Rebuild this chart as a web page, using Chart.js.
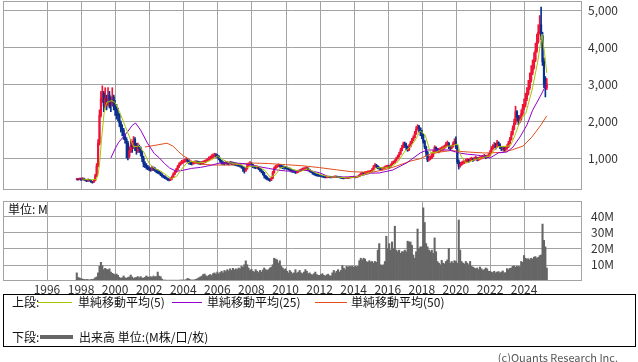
<!DOCTYPE html>
<html>
<head>
<meta charset="utf-8">
<script src="https://cdn.jsdelivr.net/npm/chart.js@4.4.1/dist/chart.umd.min.js"></script>
<style>
  body { margin: 0; background: #fff; overflow: hidden; }
  #wrap { position: relative; width: 638px; height: 362px; font-family: "Noto Sans CJK JP", sans-serif; color: #111; }
  canvas { position: absolute; left: 0; }
  .t { position: absolute; font-size: 12px; line-height: 16px; white-space: nowrap; }
  .ln { position: absolute; height: 1px; }
  #legend { position: absolute; left: 3px; top: 294px; width: 633px; height: 53px; box-sizing: border-box; border: 1px solid #000; }
</style>
</head>
<body>
<div id="wrap">
  <canvas id="price" width="638" height="191" style="top:0"></canvas>
  <canvas id="volume" width="638" height="100" style="top:195px"></canvas>
  <div class="t" style="left:8px;top:201px">単位: M</div>
  <div id="legend"></div>
  <div class="t" style="left:12px;top:294px">上段:</div>
  <div class="ln" style="left:38px;top:302px;width:34px;background:#a8c400"></div>
  <div class="t" style="left:78px;top:294px">単純移動平均(5)</div>
  <div class="ln" style="left:172px;top:302px;width:30px;background:#9400c8"></div>
  <div class="t" style="left:207px;top:294px">単純移動平均(25)</div>
  <div class="ln" style="left:315px;top:302px;width:32px;background:#e0501e"></div>
  <div class="t" style="left:351px;top:294px">単純移動平均(50)</div>
  <div class="t" style="left:12px;top:329px">下段:</div>
  <div class="ln" style="left:40px;top:335px;width:33px;height:4px;background:#666"></div>
  <div class="t" style="left:79px;top:329px">出来高 単位:(M株/口/枚)</div>
  <div class="t" style="right:20px;top:349px;font-size:11px;color:#555">(c)Quants Research Inc.</div>
</div>
<script>
// monthly bars, first one is Oct 1997
const startYear = 1997.75;

const closes = [
  430, 415, 440,
  410, 450, 420, 400, 380, 420, 390, 360, 345, 390, 520, 780,
  1400, 2150, 2600, 2750, 2400, 2600, 2450, 2700, 2500, 2450, 2650, 2400,
  2300, 2200, 2150, 1950, 1800, 1750, 1600, 1500, 1400, 1050, 1200, 1350,
  1300, 1500, 1350, 1200, 1300, 1250, 1150, 1000, 850, 800, 760, 720,
  700, 680, 720, 700, 680, 640, 620, 600, 560, 520, 500, 470,
  450, 420, 405, 430, 480, 560, 620, 680, 760, 820, 860, 890,
  900, 930, 950, 920, 880, 860, 850, 870, 880, 890, 880, 870,
  860, 870, 880, 900, 920, 950, 990, 1000, 1040, 1060, 1080, 1070,
  1050, 980, 920, 870, 860, 850, 870, 860, 850, 870, 860, 850,
  840, 830, 810, 800, 790, 760, 730, 650, 700, 780, 830, 860,
  820, 780, 760, 740, 750, 720, 680, 640, 600, 520, 480, 450,
  420, 400, 450, 600, 720, 760, 780, 800, 790, 770, 750, 740,
  730, 720, 700, 690, 660, 640, 630, 610, 620, 640, 660, 680,
  700, 710, 720, 730, 690, 650, 630, 600, 570, 550, 540, 530,
  520, 510, 500, 490, 480, 480, 490, 485, 480, 485, 490, 495,
  490, 485, 480, 470, 460, 455, 460, 465, 460, 470, 480, 485,
  490, 480, 490, 500, 530, 570, 595, 580, 600, 610, 620, 625,
  640, 680, 760, 800, 780, 740, 720, 700, 710, 730, 750, 760,
  780, 760, 800, 860, 880, 920, 980, 1030, 1100, 1200, 1280, 1380,
  1350, 1300, 1220, 1300, 1400, 1480, 1550, 1650, 1780, 1850, 1800, 1700,
  1620, 1450, 1300, 1150, 950, 980, 1000, 1050, 1150, 1290, 1230, 1200,
  1200, 1230, 1250, 1270, 1300, 1380, 1400, 1300, 1270, 1300, 1380, 1450,
  1300, 900, 780, 820, 860, 880, 900, 930, 950, 920, 960, 980,
  950, 980, 1000, 960, 980, 1000, 1010, 1030, 1050, 1020, 1040, 1080,
  1150, 1250, 1300, 1350, 1300, 1420, 1380, 1300, 1250, 1270, 1230, 1260,
  1300, 1400, 1500, 1650, 1800, 1950, 2250, 2100, 2000, 2050, 2200, 2350,
  2450, 2600, 2750, 2900, 3100, 3300, 3450, 3650, 3900, 4150, 4400, 4600,
  4300, 3600, 3000, 2900, 3000
];

const highs = [
  450, 445, 460,
  455, 470, 460, 430, 410, 440, 425, 395, 370, 410, 560, 850,
  1500, 2300, 2800, 2950, 2800, 2900, 2700, 2900, 2800, 2650, 2900, 2700,
  2550, 2450, 2350, 2200, 2000, 1900, 1800, 1650, 1550, 1450, 1300, 1500,
  1450, 1580, 1550, 1400, 1400, 1350, 1300, 1180, 1050, 900, 850, 800,
  760, 740, 780, 760, 740, 700, 680, 650, 620, 580, 540, 520,
  490, 460, 440, 470, 520, 600, 660, 720, 800, 870, 900, 940,
  950, 970, 1000, 980, 930, 900, 890, 910, 920, 930, 920, 910,
  900, 910, 920, 940, 960, 990, 1030, 1050, 1090, 1110, 1130, 1120,
  1100, 1060, 1000, 940, 900, 890, 910, 900, 890, 910, 900, 890,
  880, 870, 850, 840, 830, 800, 770, 740, 740, 820, 870, 900,
  870, 830, 800, 780, 790, 760, 730, 690, 650, 610, 530, 500,
  460, 440, 480, 640, 760, 800, 820, 840, 830, 810, 790, 780,
  770, 760, 740, 730, 700, 680, 670, 650, 650, 670, 690, 710,
  730, 740, 760, 760, 730, 690, 660, 640, 600, 580, 570, 560,
  550, 540, 530, 520, 510, 500, 510, 510, 505, 505, 510, 520,
  515, 505, 500, 490, 480, 475, 480, 485, 480, 490, 500, 505,
  510, 505, 510, 520, 560, 600, 620, 610, 630, 640, 650, 660,
  670, 720, 800, 850, 830, 790, 760, 740, 740, 760, 780, 800,
  810, 800, 840, 900, 920, 960, 1020, 1080, 1150, 1260, 1340, 1430,
  1430, 1400, 1320, 1360, 1450, 1530, 1600, 1720, 1850, 1900, 1880, 1820,
  1750, 1650, 1480, 1320, 1180, 1050, 1060, 1100, 1200, 1330, 1300, 1260,
  1260, 1280, 1300, 1320, 1350, 1420, 1460, 1420, 1330, 1350, 1430, 1520,
  1570, 1350, 950, 880, 900, 920, 940, 970, 990, 970, 1000, 1020,
  1000, 1020, 1050, 1010, 1020, 1040, 1050, 1070, 1100, 1070, 1080, 1120,
  1200, 1310, 1360, 1420, 1400, 1480, 1440, 1380, 1310, 1320, 1290, 1310,
  1360, 1450, 1560, 1720, 1870, 2050, 2400, 2280, 2150, 2150, 2300, 2450,
  2600, 2750, 2900, 3100, 3300, 3500, 3650, 3850, 4100, 4350, 4600, 4850,
  5080, 4400, 3700, 3200, 3150
];

const lows = [
  405, 400, 410,
  395, 405, 400, 380, 360, 370, 370, 340, 320, 340, 380, 500,
  760, 1350, 2100, 2500, 2250, 2350, 2300, 2400, 2350, 2250, 2400, 2300,
  2150, 2050, 2000, 1850, 1700, 1600, 1500, 1400, 1000, 950, 1000, 1150,
  1150, 1250, 1200, 1100, 1150, 1150, 1050, 900, 760, 740, 700, 680,
  660, 640, 660, 660, 640, 600, 580, 560, 520, 480, 460, 440,
  420, 390, 380, 390, 420, 470, 550, 610, 670, 740, 800, 840,
  860, 880, 900, 870, 830, 820, 810, 830, 840, 850, 840, 830,
  820, 830, 840, 860, 880, 900, 940, 960, 990, 1010, 1030, 1020,
  1000, 950, 880, 830, 820, 810, 830, 820, 810, 830, 820, 810,
  800, 790, 780, 770, 750, 720, 640, 590, 640, 700, 780, 820,
  780, 740, 720, 710, 710, 680, 640, 600, 540, 460, 430, 410,
  390, 370, 390, 440, 590, 710, 740, 760, 750, 730, 710, 700,
  700, 690, 670, 650, 620, 610, 600, 580, 590, 610, 630, 650,
  670, 680, 680, 700, 650, 620, 600, 560, 540, 520, 510, 500,
  500, 490, 480, 470, 460, 460, 470, 465, 460, 465, 470, 475,
  470, 465, 460, 450, 440, 435, 440, 445, 440, 450, 460, 465,
  470, 460, 470, 480, 500, 530, 560, 560, 570, 580, 590, 600,
  610, 630, 670, 750, 740, 710, 690, 660, 680, 700, 720, 730,
  740, 720, 750, 790, 840, 870, 920, 970, 1020, 1100, 1190, 1270,
  1280, 1220, 1180, 1200, 1300, 1380, 1460, 1540, 1640, 1750, 1700, 1600,
  1520, 1400, 1250, 1050, 900, 920, 950, 980, 1030, 1130, 1180, 1150,
  1140, 1170, 1190, 1210, 1240, 1290, 1330, 1250, 1220, 1240, 1290, 1360,
  1250, 850, 700, 750, 800, 830, 850, 880, 900, 880, 910, 940,
  910, 930, 950, 920, 930, 960, 970, 990, 1000, 980, 1000, 1030,
  1060, 1130, 1230, 1270, 1240, 1290, 1320, 1250, 1200, 1210, 1180, 1200,
  1230, 1280, 1380, 1480, 1620, 1760, 1900, 2000, 1900, 1950, 2020, 2150,
  2300, 2380, 2550, 2700, 2850, 3050, 3250, 3400, 3600, 3850, 4100, 4350,
  4200, 3500, 2900, 2650, 2850
];

// volume in millions
const volumes = [
  5, 2.2, 1.8,
  1.5, 1.2, 1, 0.8, 1, 0.8, 0.7, 0.9, 1, 1.2, 2, 2.5,
  5, 9, 11.5, 9.5, 7, 7.8, 7.2, 6.8, 7.5, 5.5, 4.7, 4.3,
  3.7, 4.3, 3.5, 2.3, 1.6, 2, 3.1, 2, 1.6, 2.2, 2.5, 3.7,
  2.5, 1.6, 2, 2.3, 2.7, 2, 2.7, 1.8, 1.8, 2.2, 3.1, 2.5,
  2.3, 2.7, 2.2, 3.1, 2.5, 2.8, 5.5, 3, 2.7, 1.2, 0.6, 0.6,
  0.5, 0.5, 0.5, 0.5, 0.5, 0.5, 0.5, 0.5, 0.5, 0.5, 0.6, 0.6,
  0.6, 0.6, 0.8, 1.6, 1.2, 0.8, 0.6, 0.6, 0.8, 1, 1.5, 2,
  2.5, 3, 4, 4.3, 3.2, 2.8, 3.5, 4, 3.3, 4.5, 5, 4.2,
  5.5, 4.5, 5.2, 6, 5, 6.5, 5.8, 7, 6.2, 7.5, 6.5, 7.8,
  6.8, 7.5, 7, 8, 7.5, 9, 8.5, 10, 12.4, 10, 8, 6.5,
  7.2, 6, 5.5, 7, 6, 5.2, 6.5, 5.5, 6.8, 8, 7, 6.5,
  7, 8, 8.5, 10, 14, 13.5, 13, 11, 12.4, 9, 8, 7,
  7.5, 6, 5, 6.5, 5.5, 4.5, 5, 7, 4.8, 5.5, 6.5, 5,
  4.5, 5.5, 7, 6, 4.5, 5, 4, 3.8, 4.5, 5.5, 4, 3.5,
  3.5, 4, 4.5, 3.5, 3, 3.8, 4.2, 3.3, 3, 5, 6.5, 5,
  6, 7, 5.5, 6.5, 9.5, 8, 7, 9, 8.5, 9, 8.8, 9.2,
  8.5, 9, 8.8, 9, 12.5, 14, 13, 14, 13.5, 12, 11.5, 12.5,
  11.7, 12, 11, 12, 11.5, 19, 23, 10, 9.6, 10, 12, 27.5,
  20, 23, 19, 24, 20, 33.7, 19, 18, 19, 17, 18, 18,
  19, 18, 24.5, 24, 24, 22, 16, 14, 18, 32, 20, 21,
  21, 45, 36, 23, 21, 19, 18, 19, 17, 26.5, 18, 12,
  11, 10, 12.7, 11, 10.5, 12, 13, 20, 11, 12, 11, 12.5,
  12, 11, 37.5, 19, 12, 11, 10.5, 12, 11, 10, 12, 9,
  8.5, 8, 7.5, 8, 7, 8.6, 7.5, 6.5, 7, 8, 7.5, 6,
  6, 5.5, 5.2, 6, 5, 5.5, 5.8, 5, 5.5, 6.2, 5, 5.2,
  7.6, 7, 7.8, 8, 9, 9.2, 8.5, 9, 9, 8.8, 12, 11.5,
  15.7, 14, 13.5, 13.7, 13, 14, 13.5, 14.7, 15, 14, 14.5, 15.6,
  16, 35, 25, 21, 8
];

// moving averages: [year, price]
const ma5 = [
  [1998.1, 430], [1998.5, 410], [1998.9, 420], [1999.0, 550], [1999.1, 900], [1999.2, 1500],
  [1999.35, 2200], [1999.5, 2500], [1999.8, 2550], [2000.0, 2500], [2000.3, 2200], [2000.6, 1850],
  [2000.9, 1500], [2001.1, 1300], [2001.4, 1330], [2001.7, 1150], [2002.0, 850], [2002.3, 720],
  [2002.7, 640], [2003.0, 540], [2003.3, 440], [2003.6, 500], [2003.9, 700], [2004.2, 860],
  [2004.5, 910], [2004.9, 880], [2005.3, 880], [2005.7, 960], [2006.0, 1050], [2006.3, 960],
  [2006.7, 870], [2007.0, 855], [2007.4, 810], [2007.7, 740], [2008.0, 780], [2008.4, 770],
  [2008.8, 660], [2009.1, 480], [2009.4, 540], [2009.7, 730], [2010.0, 770], [2010.5, 680],
  [2010.9, 640], [2011.3, 710], [2011.7, 620], [2012.1, 540], [2012.6, 490], [2013.0, 487],
  [2013.6, 462], [2014.0, 475], [2014.5, 530], [2015.0, 610], [2015.4, 740], [2015.8, 730],
  [2016.2, 770], [2016.6, 900], [2017.0, 1180], [2017.3, 1290], [2017.6, 1470], [2017.9, 1730],
  [2018.2, 1620], [2018.5, 1150], [2018.8, 1150], [2019.1, 1220], [2019.5, 1320], [2019.8, 1330],
  [2020.1, 1380], [2020.3, 1050], [2020.6, 860], [2021.0, 940], [2021.5, 1000], [2022.0, 1060],
  [2022.4, 1300], [2022.8, 1310], [2023.2, 1330], [2023.5, 1650], [2023.8, 2050], [2024.1, 2200],
  [2024.5, 2900], [2024.8, 3600], [2025.05, 4350], [2025.2, 3850], [2025.33, 3300]
];
const ma25 = [
  [1999.75, 1000], [2000.0, 1250], [2000.2, 1420], [2000.5, 1580], [2000.75, 1720], [2001.0, 1880],
  [2001.2, 1946], [2001.5, 1750], [2001.9, 1400], [2002.3, 1120], [2002.6, 1000], [2002.9, 850],
  [2003.2, 730], [2003.6, 640], [2004.0, 670], [2004.5, 720], [2005.0, 745], [2005.6, 800],
  [2006.1, 860], [2006.5, 865], [2007.0, 865], [2007.5, 850], [2008.0, 810], [2008.5, 760],
  [2009.0, 720], [2009.5, 676], [2010.0, 650], [2010.5, 640], [2011.0, 670], [2011.5, 650],
  [2012.0, 600], [2012.5, 500], [2013.0, 487], [2013.6, 487], [2014.2, 500], [2014.6, 540],
  [2015.0, 590], [2015.5, 595], [2016.3, 676], [2017.1, 865], [2017.9, 1135], [2018.3, 1216],
  [2019.0, 1216], [2019.6, 1216], [2020.2, 1135], [2020.7, 1100], [2021.2, 1081], [2021.6, 1050],
  [2022.0, 1000], [2022.5, 1140], [2023.0, 1162], [2023.35, 1297], [2023.76, 1567], [2024.17, 1892],
  [2024.5, 2290], [2024.93, 2650], [2025.2, 2890], [2025.33, 2973]
];
const ma50 = [
  [2001.75, 1297], [2002.45, 1351], [2003.05, 1400], [2003.4, 1320], [2003.7, 1180], [2004.0, 1060],
  [2004.3, 980], [2004.6, 880], [2005.1, 830], [2005.75, 810], [2006.8, 810], [2007.5, 840],
  [2008.0, 865], [2009.0, 850], [2010.0, 820], [2011.0, 790], [2012.0, 740], [2013.0, 680],
  [2013.85, 630], [2015.0, 610], [2015.8, 680], [2016.5, 780], [2017.36, 920], [2017.9, 980],
  [2018.5, 1110], [2019.06, 1160], [2019.7, 1200], [2020.24, 1180], [2020.7, 1162], [2021.7, 1135],
  [2022.65, 1150], [2023.3, 1220], [2023.93, 1320], [2024.45, 1560], [2025.0, 1900], [2025.33, 2140]
];

const yearTicks = [1996, 1998, 2000, 2002, 2004, 2006, 2008, 2010, 2012, 2014, 2016, 2018, 2020, 2022, 2024];
const priceTicks = [1000, 2000, 3000, 4000, 5000];
const volumeTicks = [10, 20, 30, 40];

const GRID = "#a3a3a3";
const UP = "#ee1438";
const DOWN = "#0b2f8f";
const FONT = { family: "'Noto Sans CJK JP', sans-serif", size: 12 };
const xMin = 1993.42;
const xMax = 2027.4;

const monthX = closes.map((c, i) => startYear + i / 12);
const candleColors = closes.map((c, i) => (i > 0 && c < closes[i - 1] ? DOWN : UP));

const toXY = (pts) => pts.map(([x, y]) => ({ x, y }));

// grid lines and the grey frame, drawn by hand
const gridPlugin = (yTicks) => ({
  id: "gridFrame",
  beforeDatasetsDraw(chart) {
    const { ctx, chartArea: a, scales } = chart;
    ctx.save();
    ctx.strokeStyle = GRID;
    ctx.lineWidth = 1;
    ctx.beginPath();
    yearTicks.forEach((v) => {
      const px = Math.round(scales.x.getPixelForValue(v)) + 0.5;
      ctx.moveTo(px, a.top);
      ctx.lineTo(px, a.bottom);
    });
    yTicks.forEach((v) => {
      const py = Math.round(scales.y.getPixelForValue(v)) + 0.5;
      ctx.moveTo(a.left, py);
      ctx.lineTo(a.right, py);
    });
    ctx.stroke();
    ctx.restore();
  },
  afterDatasetsDraw(chart) {
    const { ctx, chartArea: a } = chart;
    ctx.save();
    ctx.strokeStyle = GRID;
    ctx.lineWidth = 1;
    ctx.strokeRect(Math.round(a.left) + 0.5, Math.round(a.top) + 0.5, Math.round(a.width) - 1, Math.round(a.height) - 1);
    ctx.restore();
  },
});

const xScale = (showLabels) => ({
  type: "linear",
  min: xMin,
  max: xMax,
  offset: false,
  afterBuildTicks: (s) => { s.ticks = yearTicks.map((v) => ({ value: v })); },
  ticks: { display: showLabels, font: FONT, color: "#333", padding: 1, maxRotation: 0, autoSkip: false, callback: (v) => String(v) },
  grid: { display: false, drawTicks: false },
  border: { display: false },
  afterFit: (s) => {
    s.height = showLabels ? 14 : 0;
    s.paddingLeft = 0;
    s.paddingRight = 0;
  },
});

const yScale = (min, max, ticks, pad, fmt) => ({
  position: "right",
  min,
  max,
  afterBuildTicks: (s) => { s.ticks = ticks.map((v) => ({ value: v })); },
  ticks: { font: FONT, color: "#333", padding: pad, callback: fmt },
  grid: { display: false, drawTicks: false },
  border: { display: false },
  // keep the label overhang from shrinking the plot
  afterFit: (s) => {
    s.width = 56;
    s.paddingTop = 0;
    s.paddingBottom = 0;
  },
});

new Chart(document.getElementById("price"), {
  type: "bar",
  data: {
    datasets: [
      { type: "line", data: toXY(ma5), borderColor: "#a8c400", borderWidth: 1, pointRadius: 0, order: 0 },
      { type: "line", data: toXY(ma25), borderColor: "#9400c8", borderWidth: 1, pointRadius: 0, order: 1 },
      { type: "line", data: toXY(ma50), borderColor: "#e0501e", borderWidth: 1, pointRadius: 0, order: 2 },
      {
        data: closes.map((c, i) => ({ x: monthX[i], y: [i > 0 ? closes[i - 1] : c, c] })),
        backgroundColor: candleColors, barThickness: 1.5, grouped: false, order: 3,
      },
      {
        data: closes.map((c, i) => ({ x: monthX[i], y: [lows[i], highs[i]] })),
        backgroundColor: candleColors, barThickness: 1, grouped: false, order: 4,
      },
    ],
  },
  options: {
    responsive: false,
    animation: false,
    layout: { autoPadding: false, padding: { left: 3, top: 1, right: 0, bottom: 1 } },
    plugins: { legend: { display: false }, tooltip: { enabled: false } },
    scales: {
      x: xScale(false),
      y: yScale(135, 5243, priceTicks, 6, (v) => v.toLocaleString("en-US")),
    },
  },
  plugins: [gridPlugin(priceTicks)],
});

new Chart(document.getElementById("volume"), {
  type: "bar",
  data: {
    datasets: [
      {
        data: volumes.map((v, i) => ({ x: monthX[i], y: v })),
        backgroundColor: "#666666", barPercentage: 1, categoryPercentage: 1, grouped: false,
      },
    ],
  },
  options: {
    responsive: false,
    animation: false,
    layout: { autoPadding: false, padding: { left: 3, top: 6, right: 0, bottom: 0 } },
    plugins: { legend: { display: false }, tooltip: { enabled: false } },
    scales: {
      x: xScale(true),
      y: yScale(0, 49.2, volumeTicks, 9, (v) => v + "M"),
    },
  },
  plugins: [gridPlugin(volumeTicks)],
});
</script>
</body>
</html>
